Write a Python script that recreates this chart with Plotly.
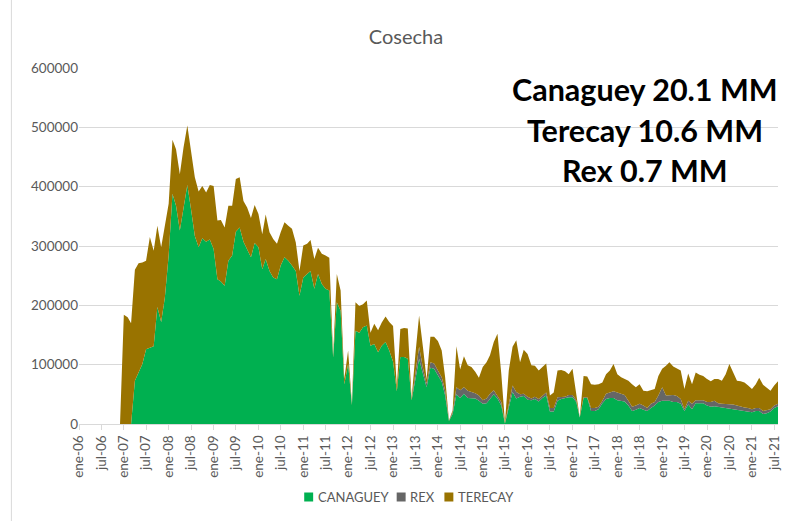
import pandas as pd
import plotly.graph_objects as go

# Monthly harvest, thousands of units, from dic-06 to ago-21
inicio = "2006-12-01"

canaguey = [
    0, 0, 0, 0,                                              # dic-06 .. mar-07
    73, 87, 101, 126, 129, 131, 197, 172, 213,               # abr-07 .. dic-07
    284, 388, 368, 326, 365, 403, 362, 317, 298, 313, 307, 311,   # 2008
    295, 244, 240, 233, 275, 284, 324, 331, 307, 295, 281, 305,   # 2009
    298, 261, 278, 258, 247, 244, 267, 281, 275, 267, 258, 216,   # 2010
    247, 253, 258, 228, 253, 236, 228, 225, 112, 205, 191, 67,    # 2011
    101, 32, 157, 154, 163, 166, 132, 135, 121, 132, 138, 124,    # 2012
    105, 55, 113, 113, 110, 40, 78, 110, 85, 62, 95, 93,          # 2013
    82, 71, 48, 5, 17, 50, 44, 51, 44, 43, 43, 39,                # 2014
    34, 35, 43, 50, 43, 31, 1, 29, 54, 43, 46, 47,                # 2015
    41, 40, 42, 38, 44, 48, 21, 21, 39, 42, 44, 45,               # 2016
    45, 37, 11, 44, 44, 22, 22, 25, 35, 42, 44, 44,               # 2017
    40, 39, 38, 31, 22, 24, 27, 24, 22, 27, 31, 37,               # 2018
    39, 39, 39, 37, 37, 34, 22, 33, 25, 35, 35, 35,               # 2019
    31, 29, 30, 29, 28, 27, 26, 26, 25, 24, 22, 21,               # 2020
    20, 22, 22, 17, 18, 21, 27, 30,                               # 2021
]

rex = [
    0, 0, 0, 0,
    0, 0, 0, 0, 0, 0, 0, 0, 0,
    0, 0, 0, 0, 0, 0, 0, 0, 0, 0, 0, 0,
    0, 0, 0, 0, 0, 0, 0, 0, 0, 0, 0, 0,
    0, 0, 0, 0, 0, 0, 0, 0, 0, 0, 0, 0,
    0, 0, 0, 0, 0, 0, 0, 0, 0, 0, 0, 0,
    0, 0, 0, 0, 0, 0, 0, 0, 0, 0, 0, 0,
    0, 0, 0, 0, 0, 0, 7, 20, 10, 6, 9, 9,
    8, 8, 9, 0, 3, 12, 13, 11, 12, 11, 9, 9,
    6, 8, 8, 7, 5, 6, 0, 5, 11, 11, 4, 4,
    5, 3, 4, 4, 4, 5, 6, 6, 6, 4, 2, 4,
    4, 3, 0, 1, 1, 5, 5, 4, 4, 9, 9, 11,
    13, 12, 11, 8, 7, 7, 7, 7, 5, 7, 6, 11,
    23, 9, 9, 12, 10, 8, 3, 6, 9, 5, 5, 5,
    6, 8, 9, 6, 6, 7, 8, 7, 6, 5, 6, 6,
    5, 5, 5, 5, 6, 4, 4, 4,
]

terecay = [
    0, 184, 180, 170,
    187, 184, 171, 149, 186, 161, 137, 126, 121,
    87, 91, 95, 95, 101, 100, 96, 99, 94, 88, 83, 92,
    106, 99, 104, 98, 93, 84, 89, 85, 69, 70, 66, 64,
    56, 59, 75, 65, 65, 60, 56, 59, 59, 62, 48, 42,
    54, 51, 52, 50, 44, 51, 56, 55, 3, 48, 34, 9,
    23, 2, 48, 45, 39, 42, 22, 34, 37, 39, 43, 48,
    60, 8, 47, 49, 51, 3, 31, 53, 35, 7, 43, 45,
    50, 45, 22, 1, 3, 69, 35, 52, 43, 42, 36, 30,
    56, 61, 65, 81, 104, 48, 1, 56, 65, 87, 54, 74,
    72, 56, 52, 48, 48, 49, 21, 26, 45, 45, 43, 35,
    44, 11, 0, 36, 35, 40, 39, 38, 31, 33, 37, 46,
    31, 28, 27, 34, 38, 31, 33, 25, 28, 23, 22, 33,
    31, 50, 56, 48, 46, 48, 34, 46, 33, 47, 43, 41,
    39, 35, 37, 41, 39, 50, 67, 55, 42, 43, 42, 38,
    34, 40, 51, 44, 37, 31, 34, 38,
]

series = [
    ("CANAGUEY", canaguey, "#00B050"),
    ("REX", rex, "#666666"),
    ("TERECAY", terecay, "#997300"),
]

resumen = ["Canaguey 20.1 MM", "Terecay 10.6 MM", "Rex 0.7 MM"]

meses_es = ["ene", "feb", "mar", "abr", "may", "jun",
            "jul", "ago", "sep", "oct", "nov", "dic"]

fechas = pd.date_range(inicio, periods=len(canaguey), freq="MS")
marcas = pd.date_range("2006-01-01", "2021-07-01", freq="6MS")
etiquetas = [f"{meses_es[d.month - 1]}-{d.year % 100:02d}" for d in marcas]

W, H = 793, 521
L, R, T, B = 79, 11, 68, 97
pw, ph = W - L - R, H - T - B


def px_x(x):
    return (x - L) / pw


def px_y(y):
    return (H - B - y) / ph


fig = go.Figure()
for nombre, valores, color in series:
    fig.add_trace(go.Scatter(
        x=fechas, y=[v * 1000 for v in valores], name=nombre,
        mode="lines", stackgroup="cosecha", showlegend=False,
        line=dict(width=0, color=color), fillcolor=color,
    ))

gris = "#595959"
fig.update_layout(
    width=W, height=H,
    margin=dict(l=L, r=R, t=T, b=B),
    paper_bgcolor="white", plot_bgcolor="white",
    font=dict(family="Lato", size=13, color=gris),
    title=dict(text="Cosecha", x=0.512, xanchor="center",
               y=1 - 37 / H, yanchor="middle",
               font=dict(family="Lato", size=20, color=gris)),
    showlegend=False,
    xaxis=dict(
        type="date", range=["2006-01-01", "2021-08-01"],
        tickvals=list(marcas), ticktext=etiquetas, tickangle=-90,
        ticks="outside", ticklen=5, tickcolor="#d9d9d9",
        showline=True, linecolor="#d9d9d9", linewidth=1,
        showgrid=False, zeroline=False, tickfont=dict(size=13.5),
    ),
    yaxis=dict(
        range=[0, 600000], tickvals=list(range(0, 600001, 100000)),
        tickformat="d", showgrid=True, gridcolor="#d9d9d9",
        zeroline=False, showline=False, ticks="", tickfont=dict(size=13.5),
    ),
)

# legend row: square key + series name
leyenda_x = [310, 403, 451]
for (nombre, _, color), cx in zip(series, leyenda_x):
    fig.add_shape(type="rect", xref="paper", yref="paper",
                  x0=px_x(cx - 4.5), x1=px_x(cx + 4.5),
                  y0=px_y(497 + 4.5), y1=px_y(497 - 4.5),
                  fillcolor=color, line=dict(width=0))
    fig.add_annotation(text=nombre, xref="paper", yref="paper",
                       x=px_x(cx + 7), y=px_y(497), xanchor="left", yanchor="middle",
                       showarrow=False, font=dict(size=13, color=gris))

for i, texto in enumerate(resumen):
    fig.add_annotation(
        text=f"<b>{texto}</b>", xref="paper", yref="paper",
        x=px_x(648), y=px_y([89, 130, 170][i]), xanchor="center", yanchor="middle",
        showarrow=False, font=dict(family="Lato", size=30.5, color="black"),
    )

# chart frame on the left edge
fig.add_shape(type="line", xref="paper", yref="paper",
              x0=px_x(11), x1=px_x(11), y0=-0.3, y1=1.2,
              line=dict(color="#d9d9d9", width=1))

fig.write_html("out.html")
